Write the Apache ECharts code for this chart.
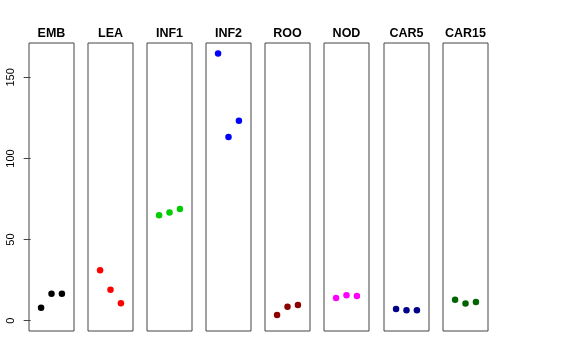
<!DOCTYPE html>
<html><head><meta charset="utf-8">
<script src="https://cdn.jsdelivr.net/npm/echarts@6/dist/echarts.min.js"></script>
<style>html,body{margin:0;padding:0;background:#fff}#c{width:576px;height:360px}</style>
</head><body><div id="c"></div>
<script>
var panels = ["EMB","LEA","INF1","INF2","ROO","NOD","CAR5","CAR15"];
var colors = ["#000000","#FF0000","#00CD00","#0000FF","#8B0000","#FF00FF","#00008B","#006400"];
var xPositions = [1,2,3];
var EMB = [8.0,16.5,16.5];
var LEA = [31.1,19.1,10.7];
var INF1 = [65.0,66.7,68.8];
var INF2 = [164.8,113.2,123.3];
var ROO = [3.5,8.6,9.7];
var NOD = [14.0,15.7,15.2];
var CAR5 = [7.2,6.4,6.4];
var CAR15 = [12.8,10.5,11.5];
var values = [EMB,LEA,INF1,INF2,ROO,NOD,CAR5,CAR15];
var yTicks = [0,50,100,150];

var lefts = [29,88,147,206,265,324,384,443];
var W = 45, TOP = 43, H = 288;
var grids=[], xAxes=[], yAxes=[], series=[], titles=[];
panels.forEach(function(name,i){
  grids.push({left:lefts[i], top:TOP, width:W, height:H, show:true, borderColor:'#444', borderWidth:1, backgroundColor:'transparent'});
  xAxes.push({type:'value', gridIndex:i, min:-0.16, max:4.16, show:false});
  var first = i===0;
  yAxes.push({type:'value', gridIndex:i, min:-6.4, max:171.2, show:first,
    axisLine:{show:false}, splitLine:{show:false},
    axisTick:{show:first, length:7, customValues:yTicks, lineStyle:{color:'#444'}},
    axisLabel:{show:first, customValues:yTicks, rotate:90, margin:13, fontFamily:'Liberation Sans', fontSize:11, color:'#000'}
  });
  series.push({type:'scatter', xAxisIndex:i, yAxisIndex:i, symbolSize:6.5, itemStyle:{color:colors[i], opacity:1},
    data: values[i].map(function(v,j){return [xPositions[j], v];}), silent:true});
  titles.push({text:name, left:lefts[i]+W/2, top:27, padding:0, textAlign:'center',
    textStyle:{fontFamily:'Liberation Sans', fontWeight:'bold', fontSize:12.5, color:'#000'}});
});
var chart = echarts.init(document.getElementById('c'), null, {renderer:'canvas'});
chart.setOption({animation:false, title:titles, grid:grids, xAxis:xAxes, yAxis:yAxes, series:series});
</script></body></html>
